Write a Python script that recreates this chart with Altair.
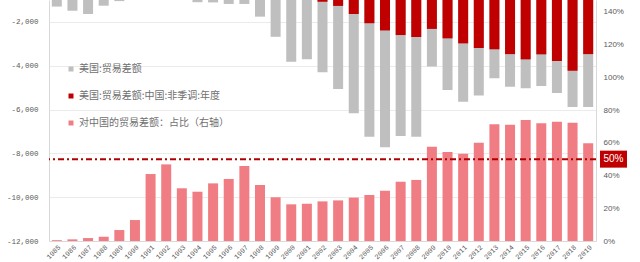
import altair as alt
import pandas as pd

# US trade balance (100m USD), US-China balance, and China's share (%) by year
years = [str(y) for y in range(1985, 2020)]

us_total = [
    -1300, -1490, -1640, -1260, -1050, -810, -310, -400, -700, -1100,
    -1110, -1180, -1180, -1760, -2680, -3820, -3710, -4300, -5060, -6170,
    -7240, -7720, -7210, -7240, -4040, -5110, -5640, -5360, -4570, -4960,
    -5030, -4930, -5250, -5880, -5880,
]

us_china = [
    -10, -17, -28, -35, -62, -104, -127, -183, -228, -295,
    -338, -395, -497, -569, -686, -838, -831, -1080, -1270, -1640,
    -2060, -2390, -2600, -2690, -2320, -2750, -2980, -3190, -3250, -3470,
    -3710, -3480, -3780, -4230, -3470,
]

china_share = [
    0.5, 1.0, 1.8, 2.6, 6.7, 12.8, 40.9, 46.8, 32.2, 30.1,
    35.2, 37.9, 45.8, 34.2, 26.7, 22.4, 22.8, 24.2, 24.8, 26.5,
    28.1, 30.7, 36.2, 37.3, 57.6, 54.4, 53.3, 60.0, 71.3, 71.0,
    73.9, 71.9, 72.9, 72.3, 59.7,
]

series = [
    "美国:贸易差额",
    "美国:贸易差额:中国:非季调:年度",
    "对中国的贸易差额：占比（右轴）",
]
series_colors = ["#BFBFBF", "#C00000", "#F07D83"]

threshold = [50]
threshold_label = ["50%"]

df = pd.DataFrame(
    {"year": years, "total": us_total, "china": us_china, "share": china_share}
)

AXIS_GREY = "#D9D9D9"
LABEL_GREY = "#595959"

color_scale = alt.Scale(domain=series, range=series_colors)
legend = alt.Legend(
    orient="none",
    legendX=17,
    legendY=64,
    title=None,
    symbolType="square",
    symbolSize=25,
    symbolStrokeWidth=0,
    labelFont="Noto Sans CJK SC",
    labelFontSize=10,
    labelColor="#707070",
    labelOffset=3,
    rowPadding=17,
    padding=0,
)

x_enc = alt.X(
    "year:N",
    sort=None,
    scale=alt.Scale(paddingInner=0.36, paddingOuter=0.18),
    axis=alt.Axis(
        title=None,
        labelAngle=-45,
        ticks=False,
        domainColor=AXIS_GREY,
        labelFont="Liberation Mono",
        labelFontSize=7,
        labelColor=LABEL_GREY,
        labelPadding=2,
    ),
)

left_scale = alt.Scale(domain=[-12000, -1000], nice=False, zero=False)
right_scale = alt.Scale(domain=[0, 147.2], nice=False, zero=True)

left_axis = alt.Axis(
    title=None,
    orient="left",
    values=list(range(-12000, -1000, 2000)),
    labelExpr="replace(format(datum.value, ','), '\u2212', '-')",
    grid=True,
    gridColor="#EBEBEB",
    ticks=False,
    domainColor=AXIS_GREY,
    labelFont="Liberation Mono",
    labelFontSize=7.5,
    labelColor=LABEL_GREY,
    labelPadding=11,
)

right_axis = alt.Axis(
    title=None,
    orient="right",
    values=list(range(0, 141, 20)),
    labelExpr="datum.value + '%'",
    grid=False,
    ticks=False,
    domainColor=AXIS_GREY,
    labelFont="Liberation Sans",
    labelFontSize=8,
    labelColor=LABEL_GREY,
    labelPadding=7,
)


def series_color(with_legend=False):
    return alt.Color("series:N", scale=color_scale, legend=legend if with_legend else None)


base = alt.Chart(df)

# bars hanging from zero on the left (balance) axis
total_bars = (
    base.transform_calculate(series=f"'{series[0]}'")
    .mark_bar(clip=True)
    .encode(
        x=x_enc,
        y=alt.Y("total:Q", scale=left_scale, axis=left_axis),
        y2=alt.datum(0),
        color=series_color(with_legend=True),
    )
)
china_bars = (
    base.transform_calculate(series=f"'{series[1]}'")
    .mark_bar(clip=True)
    .encode(
        x=x_enc,
        y=alt.Y("china:Q", scale=left_scale, axis=left_axis),
        y2=alt.datum(0),
        color=series_color(),
    )
)
left_layer = alt.layer(total_bars, china_bars)

# share bars on the right (percent) axis
share_bars = (
    base.transform_calculate(series=f"'{series[2]}'")
    .mark_bar()
    .encode(
        x=x_enc,
        y=alt.Y("share:Q", scale=right_scale, axis=right_axis),
        color=series_color(),
    )
)

ref_df = pd.DataFrame({"share": threshold, "label": threshold_label})
ref = alt.Chart(ref_df)
ref_y = alt.Y("share:Q", scale=right_scale, axis=right_axis)

ref_rule = ref.mark_rule(color="#B00000", strokeWidth=2, strokeDash=[6, 3, 2, 3]).encode(
    y=ref_y
)
ref_box = ref.mark_point(
    shape="M-1,-0.63L1,-0.63L1,0.63L-1,0.63Z",
    size=729,
    filled=True,
    opacity=1,
    color="#C00000",
).encode(x=alt.value(564.5), y=ref_y)
ref_text = ref.mark_text(
    color="white", font="Liberation Sans", fontSize=10, align="center", baseline="middle"
).encode(x=alt.value(564.5), y=ref_y, text="label:N")

right_layer = alt.layer(share_bars, ref_rule, ref_box, ref_text)

chart = (
    alt.layer(left_layer, right_layer)
    .resolve_scale(y="independent")
    .properties(
        width=547,
        height=241,
        autosize=alt.AutoSizeParams(type="none"),
        padding={"left": 49, "right": 44, "top": 0, "bottom": 21},
    )
    .configure_view(stroke=None)
)

chart.save("out.html", embed_options={"renderer": "svg", "actions": False})
